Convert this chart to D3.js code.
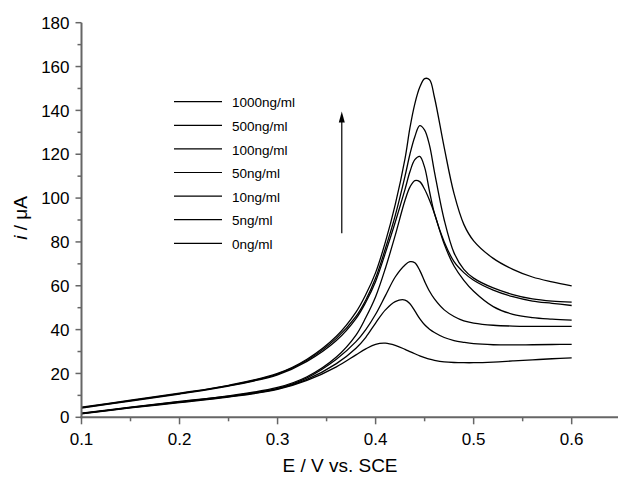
<!DOCTYPE html>
<html>
<head>
<meta charset="utf-8">
<script src="https://cdn.jsdelivr.net/npm/d3@7.9.0/dist/d3.min.js"></script>
<style>
  body { margin: 0; background: #fff; }
  svg { display: block; font-family: Arial, "Liberation Sans", sans-serif; }
</style>
</head>
<body>
<svg width="618" height="477"></svg>
<script>
// potentials (V vs. SCE)
const potentials = [0.10, 0.15, 0.20, 0.25, 0.30, 0.33, 0.36, 0.38, 0.39, 0.40, 0.41, 0.42, 0.43, 0.435,
  0.44, 0.445, 0.45, 0.455, 0.46, 0.47, 0.48, 0.49, 0.50, 0.52, 0.54, 0.56, 0.58, 0.60];

// current (uA) for each concentration
const c1000 = [4.6, 7.8, 11.0, 14.6, 20, 26.5, 37, 48, 56, 66, 80, 97, 118, 132, 143, 150.5, 154.5, 154, 146, 123, 102, 88, 80.5, 72.5, 67.5, 64, 61.8, 60];
const c500 = [4.4, 7.6, 10.8, 14.4, 19.7, 26, 36, 46, 53.5, 63.5, 77, 92, 110, 120, 128, 133, 131, 124, 112, 90, 75, 67.5, 63.5, 59, 56, 54, 53, 52.5];
const c100 = [4.2, 7.4, 10.6, 14.2, 19.4, 25.5, 35, 45, 52.5, 62, 75, 89, 104, 112, 117.5, 119, 114, 103, 93, 80, 71, 66, 62.5, 58, 55, 53, 52, 51];
const c50 = [1.9, 4.6, 7.2, 9.8, 13.6, 18.5, 27.5, 37.5, 45.5, 55, 68, 83, 99, 105, 108, 107.5, 104, 99, 93, 79, 69, 62.5, 57.5, 50.5, 47, 45.5, 44.8, 44.3];
const c10 = [1.8, 4.5, 7.1, 9.6, 13.2, 18, 26.5, 34.5, 40, 47, 55.5, 64, 69.5, 71, 70.5, 67, 62, 57.5, 54, 49, 46, 44, 43, 42, 41.6, 41.5, 41.5, 41.5];
const c5 = [1.7, 4.4, 6.9, 9.4, 13, 17.3, 24.5, 31.5, 36.5, 43, 49, 52.8, 53.5, 51.8, 48.5, 45, 42.2, 40.2, 38.7, 36.4, 35, 34.2, 33.6, 33.1, 33, 33.1, 33.2, 33.3];
const c0 = [1.6, 4.3, 6.7, 9.2, 12.7, 16.8, 23, 28.5, 31.2, 33.3, 33.8, 32.8, 31, 30, 29, 28, 27.2, 26.5, 26, 25.3, 25, 24.9, 24.9, 25.2, 25.7, 26.2, 26.7, 27.1];

const seriesNames = ['1000ng/ml', '500ng/ml', '100ng/ml', '50ng/ml', '10ng/ml', '5ng/ml', '0ng/ml'];
const seriesValues = [c1000, c500, c100, c50, c10, c5, c0];

const xTicks = [0.1, 0.2, 0.3, 0.4, 0.5, 0.6];
const yTicks = [0, 20, 40, 60, 80, 100, 120, 140, 160, 180];

const svg = d3.select('svg');

const x = d3.scaleLinear().domain([0.1, 0.65]).range([81.5, 620.7]);
const y = d3.scaleLinear().domain([0, 180]).range([417.3, 22.7]);

const axisColor = '#666';

// curves
const line = d3.line()
  .x((d) => x(d[0]))
  .y((d) => y(d[1]))
  .curve(d3.curveCatmullRom.alpha(0.5));

seriesValues.forEach((vals) => {
  svg.append('path')
    .attr('d', line(potentials.map((p, i) => [p, vals[i]])))
    .attr('fill', 'none')
    .attr('stroke', '#000')
    .attr('stroke-width', 1.3);
});

// x axis
const xAxis = svg.append('g').attr('transform', `translate(0,${y(0)})`);
xAxis.append('line')
  .attr('x1', x(0.1) - 1).attr('x2', 618)
  .attr('stroke', axisColor).attr('stroke-width', 2);
d3.range(0.15, 0.65, 0.1).forEach((v) => {
  xAxis.append('line')
    .attr('x1', x(v)).attr('x2', x(v)).attr('y1', 0).attr('y2', 4)
    .attr('stroke', axisColor).attr('stroke-width', 1.5);
});
xTicks.forEach((v) => {
  xAxis.append('line')
    .attr('x1', x(v)).attr('x2', x(v)).attr('y1', 0).attr('y2', 7)
    .attr('stroke', axisColor).attr('stroke-width', 1.5);
  xAxis.append('text')
    .attr('x', x(v)).attr('y', 28)
    .attr('text-anchor', 'middle')
    .attr('font-size', 17)
    .text(d3.format('.1f')(v));
});

// y axis
const yAxis = svg.append('g').attr('transform', `translate(${x(0.1)},0)`);
yAxis.append('line')
  .attr('y1', y(0) + 1).attr('y2', y(180))
  .attr('stroke', axisColor).attr('stroke-width', 2);
d3.range(10, 180, 20).forEach((v) => {
  yAxis.append('line')
    .attr('x1', 0).attr('x2', -4).attr('y1', y(v)).attr('y2', y(v))
    .attr('stroke', axisColor).attr('stroke-width', 1.5);
});
yTicks.forEach((v) => {
  yAxis.append('line')
    .attr('x1', 0).attr('x2', -6).attr('y1', y(v)).attr('y2', y(v))
    .attr('stroke', axisColor).attr('stroke-width', 1.5);
  yAxis.append('text')
    .attr('x', -12).attr('y', y(v))
    .attr('dy', '0.36em')
    .attr('text-anchor', 'end')
    .attr('font-size', 17)
    .text(v);
});

// axis titles
svg.append('text')
  .attr('x', 340).attr('y', 472)
  .attr('text-anchor', 'middle')
  .attr('font-size', 19)
  .text('E / V vs. SCE');

const yTitle = svg.append('text')
  .attr('transform', 'translate(27,218) rotate(-90)')
  .attr('text-anchor', 'middle')
  .attr('font-size', 19);
yTitle.append('tspan').attr('font-style', 'italic').text('i');
yTitle.append('tspan').text(' / μA');

// legend
const legend = svg.append('g');
seriesNames.forEach((name, i) => {
  const ly = 101.7 + i * 23.6;
  legend.append('line')
    .attr('x1', 174).attr('x2', 222).attr('y1', ly).attr('y2', ly)
    .attr('stroke', '#000').attr('stroke-width', 1.2);
  legend.append('text')
    .attr('x', 232).attr('y', ly + 1)
    .attr('dy', '0.35em')
    .attr('font-size', 13.5)
    .text(name);
});

// arrow (increasing concentration)
const ax = x(0.3655);
svg.append('line')
  .attr('x1', ax).attr('x2', ax)
  .attr('y1', y(84)).attr('y2', y(137))
  .attr('stroke', '#000').attr('stroke-width', 1.2);
svg.append('path')
  .attr('d', `M${ax},${y(139.5)} L${ax - 3},${y(134.5)} L${ax + 3},${y(134.5)} Z`)
  .attr('fill', '#000');
</script>
</body>
</html>
